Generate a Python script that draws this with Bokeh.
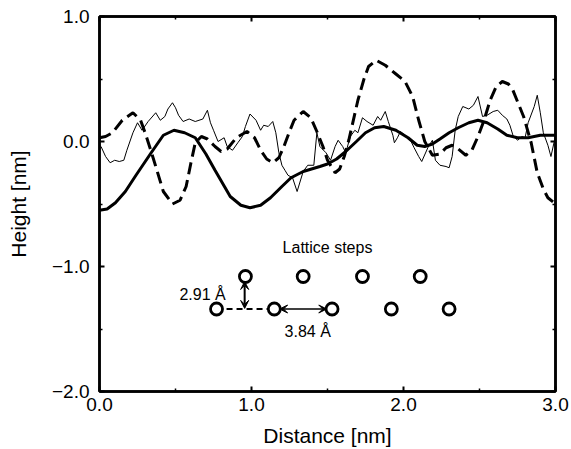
from bokeh.plotting import figure
from bokeh.models import (FixedTicker, LinearAxis, Range1d, Arrow, VeeHead)
from bokeh.core.properties import value
from bokeh.embed import file_html
from bokeh.resources import INLINE

# ---------------- data ----------------
solid_x = [0.0, 0.05, 0.105, 0.17, 0.24, 0.34, 0.42, 0.49, 0.56, 0.63, 0.70, 0.76, 0.86, 0.93, 0.99,
           1.06, 1.125, 1.20, 1.26, 1.34, 1.45, 1.50, 1.56, 1.62, 1.69, 1.75, 1.81, 1.87, 1.95, 2.03,
           2.09, 2.14, 2.19, 2.24, 2.30, 2.36, 2.43, 2.49, 2.55, 2.62, 2.68, 2.75, 2.82, 2.90, 3.0]
solid_y = [-0.55, -0.54, -0.49, -0.40, -0.27, -0.09, 0.05, 0.09, 0.07, 0.03, -0.10, -0.23, -0.44, -0.51, -0.53,
           -0.51, -0.45, -0.36, -0.29, -0.24, -0.20, -0.18, -0.14, -0.08, 0.0, 0.07, 0.11, 0.12, 0.09, 0.03,
           -0.03, -0.04, -0.02, 0.02, 0.07, 0.11, 0.15, 0.17, 0.15, 0.10, 0.05, 0.03, 0.03, 0.05, 0.05]

dash_x = [0.0, 0.04, 0.085, 0.15, 0.22, 0.27, 0.30, 0.34, 0.37, 0.42, 0.48, 0.53, 0.57, 0.60, 0.63, 0.67,
          0.71, 0.76, 0.80, 0.84, 0.90, 0.97, 1.02, 1.06, 1.10, 1.14, 1.18, 1.21, 1.25, 1.28, 1.34, 1.39,
          1.43, 1.47, 1.50, 1.55, 1.58, 1.61, 1.64, 1.70, 1.74, 1.77, 1.82, 1.88, 1.95, 2.01, 2.06, 2.10,
          2.14, 2.19, 2.24, 2.28, 2.32, 2.36, 2.41, 2.45, 2.49, 2.53, 2.57, 2.61, 2.65, 2.69, 2.72, 2.79,
          2.84, 2.88, 2.92, 2.95, 3.0]
dash_y = [0.03, 0.04, 0.07, 0.17, 0.23, 0.17, 0.07, -0.08, -0.20, -0.40, -0.50, -0.47, -0.36, -0.18, -0.01, 0.04,
          0.02, -0.04, -0.08, -0.06, 0.03, 0.08, 0.03, -0.07, -0.14, -0.17, -0.13, -0.05, 0.08, 0.17, 0.24, 0.19,
          0.08, -0.04, -0.15, -0.25, -0.22, -0.12, 0.01, 0.33, 0.50, 0.60, 0.65, 0.61, 0.54, 0.48, 0.36, 0.17,
          0.00, -0.11, -0.10, -0.05, -0.03, -0.06, -0.11, -0.07, 0.04, 0.17, 0.33, 0.44, 0.48, 0.46, 0.41, 0.20,
          -0.01, -0.25, -0.38, -0.45, -0.50]

thin_x = [0.0, 0.01, 0.04, 0.07, 0.10, 0.13, 0.16, 0.18, 0.22, 0.25, 0.28, 0.32, 0.37, 0.40, 0.43, 0.45,
          0.48, 0.50, 0.52, 0.55, 0.59, 0.63, 0.68, 0.71, 0.73, 0.75, 0.78, 0.82, 0.84, 0.875, 0.91, 0.94,
          0.96, 0.99, 1.03, 1.06, 1.08, 1.11, 1.14, 1.16, 1.18, 1.20, 1.22, 1.24, 1.27, 1.30, 1.34, 1.37,
          1.41, 1.43, 1.45, 1.49, 1.52, 1.55, 1.57, 1.60, 1.62, 1.65, 1.68, 1.70, 1.73, 1.76, 1.80, 1.83,
          1.85, 1.88, 1.90, 1.93, 1.94, 1.96, 1.98, 2.01, 2.05, 2.07, 2.10, 2.12, 2.16, 2.19, 2.21, 2.24,
          2.28, 2.30, 2.32, 2.34, 2.36, 2.39, 2.43, 2.46, 2.49, 2.52, 2.55, 2.59, 2.62, 2.65, 2.68, 2.70,
          2.72, 2.75, 2.78, 2.80, 2.82, 2.86, 2.88, 2.90, 2.92, 2.95, 2.97, 2.99, 3.0]
thin_y = [-0.03, -0.04, -0.12, -0.17, -0.15, -0.16, -0.15, -0.07, 0.07, 0.15, 0.09, 0.16, 0.23, 0.17, 0.20, 0.26,
          0.31, 0.27, 0.21, 0.16, 0.18, 0.16, 0.18, 0.25, 0.15, 0.09, 0.0, 0.03, -0.04, -0.07, -0.01, 0.04,
          0.12, 0.22, 0.17, 0.09, 0.13, 0.12, 0.16, 0.07, -0.09, -0.19, -0.23, -0.27, -0.29, -0.40, -0.24, -0.19,
          -0.19, 0.07, -0.04, -0.09, -0.15, -0.04, 0.01, -0.04, -0.09, 0.04, 0.09, 0.07, 0.19, 0.16, 0.13, 0.20,
          0.17, 0.24, 0.16, 0.05, -0.01, 0.03, 0.08, 0.05, 0.00, -0.05, -0.12, -0.16, -0.05, 0.01, -0.15, -0.19,
          -0.20, -0.21, -0.12, 0.09, 0.20, 0.28, 0.26, 0.29, 0.36, 0.20, 0.21, 0.24, 0.25, 0.21, 0.18, 0.13,
          0.05, 0.01, 0.04, 0.03, 0.15, 0.28, 0.37, 0.23, 0.07, -0.03, -0.12, -0.01, 0.05]

# lattice inset
lattice_upper_x = [0.96, 1.34, 1.73, 2.11]
lattice_upper_y = [-1.08, -1.08, -1.08, -1.08]
lattice_lower_x = [0.77, 1.15, 1.53, 1.92, 2.30]
lattice_lower_y = [-1.34, -1.34, -1.34, -1.34, -1.34]

x_ticks = [0, 1, 2, 3]
x_minor = [0.5, 1.5, 2.5]
x_labels = ["0.0", "1.0", "2.0", "3.0"]
y_ticks = [-2, -1, 0, 1]
y_minor = [-1.5, -0.5, 0.5]
y_labels = ["\u22122.0", "\u22121.0", "0.0", "1.0"]

FONT = "Liberation Sans"

p = figure(width=571, height=449, output_backend="svg", toolbar_location=None,
           x_range=Range1d(0, 3), y_range=Range1d(-2, 1),
           min_border_left=99, min_border_right=16, min_border_top=16, min_border_bottom=56)
p.grid.visible = False
p.background_fill_color = "white"
p.border_fill_color = "white"
p.outline_line_color = "black"
p.outline_line_width = 2.5


def style_axis(ax, ticks, minor, show_labels, labels=None):
    ax.ticker = FixedTicker(ticks=ticks, minor_ticks=minor)
    ax.axis_line_width = 2.5
    ax.axis_line_color = "black"
    ax.major_tick_in = 5
    ax.major_tick_out = 0
    ax.minor_tick_in = 3
    ax.minor_tick_out = 0
    ax.major_tick_line_width = 2
    ax.minor_tick_line_width = 1.5
    ax.major_tick_line_color = "black"
    ax.minor_tick_line_color = "black"
    if show_labels:
        ax.major_label_overrides = {t: l for t, l in zip(ticks, labels)}
        ax.major_label_text_font = FONT
        ax.major_label_text_font_size = "19px"
        ax.major_label_text_color = "black"
    else:
        ax.major_label_text_font_size = "0px"
        ax.major_label_text_color = None


xa = p.xaxis[0]
ya = p.yaxis[0]
style_axis(xa, x_ticks, x_minor, True, x_labels)
style_axis(ya, y_ticks, y_minor, True, y_labels)
xa.axis_label = "Distance [nm]"
ya.axis_label = "Height [nm]"
for ax in (xa, ya):
    ax.axis_label_text_font = FONT
    ax.axis_label_text_font_size = "21px"
    ax.axis_label_text_font_style = "normal"
    ax.axis_label_text_color = "black"
xa.major_label_standoff = 6
xa.axis_label_standoff = 10
ya.major_label_standoff = 10
ya.axis_label_standoff = 19

top = LinearAxis()
right = LinearAxis()
style_axis(top, x_ticks, x_minor, False)
style_axis(right, y_ticks, y_minor, False)
top.major_label_standoff = 0
right.major_label_standoff = 0
p.add_layout(top, "above")
p.add_layout(right, "right")

# curves
p.line(thin_x, thin_y, line_color="black", line_width=1)
p.line(dash_x, dash_y, line_color="black", line_width=3, line_dash="12 6")
p.line(solid_x, solid_y, line_color="black", line_width=3)

# lattice inset
p.line([lattice_lower_x[0], lattice_lower_x[1]], [lattice_lower_y[0], lattice_lower_y[1]],
       line_color="black", line_width=2, line_dash="6 4")
p.add_layout(Arrow(start=VeeHead(size=8, fill_color="black", line_color="black"),
                   end=VeeHead(size=8, fill_color="black", line_color="black"),
                   x_start=0.955, y_start=-1.335, x_end=0.955, y_end=-1.12,
                   line_width=2, line_color="black"))
p.add_layout(Arrow(start=VeeHead(size=8, fill_color="black", line_color="black"),
                   end=VeeHead(size=8, fill_color="black", line_color="black"),
                   x_start=1.185, y_start=-1.34, x_end=1.495, y_end=-1.34,
                   line_width=1.5, line_color="black"))
p.scatter(lattice_upper_x, lattice_upper_y, size=12, marker="circle",
          fill_color="white", line_color="black", line_width=2.8)
p.scatter(lattice_lower_x, lattice_lower_y, size=12, marker="circle",
          fill_color="white", line_color="black", line_width=2.8)

p.text(x=[1.5], y=[-0.85], text=["Lattice steps"], text_align="center", text_baseline="middle",
       text_font=value(FONT), text_font_size="16px", text_color="black")
p.text(x=[0.83], y=[-1.22], text=["2.91 \u00c5"], text_align="right", text_baseline="middle",
       text_font=value(FONT), text_font_size="16px", text_color="black")
p.text(x=[1.37], y=[-1.52], text=["3.84 \u00c5"], text_align="center", text_baseline="middle",
       text_font=value(FONT), text_font_size="16px", text_color="black")

open("out.html", "w").write(file_html(p, INLINE))
